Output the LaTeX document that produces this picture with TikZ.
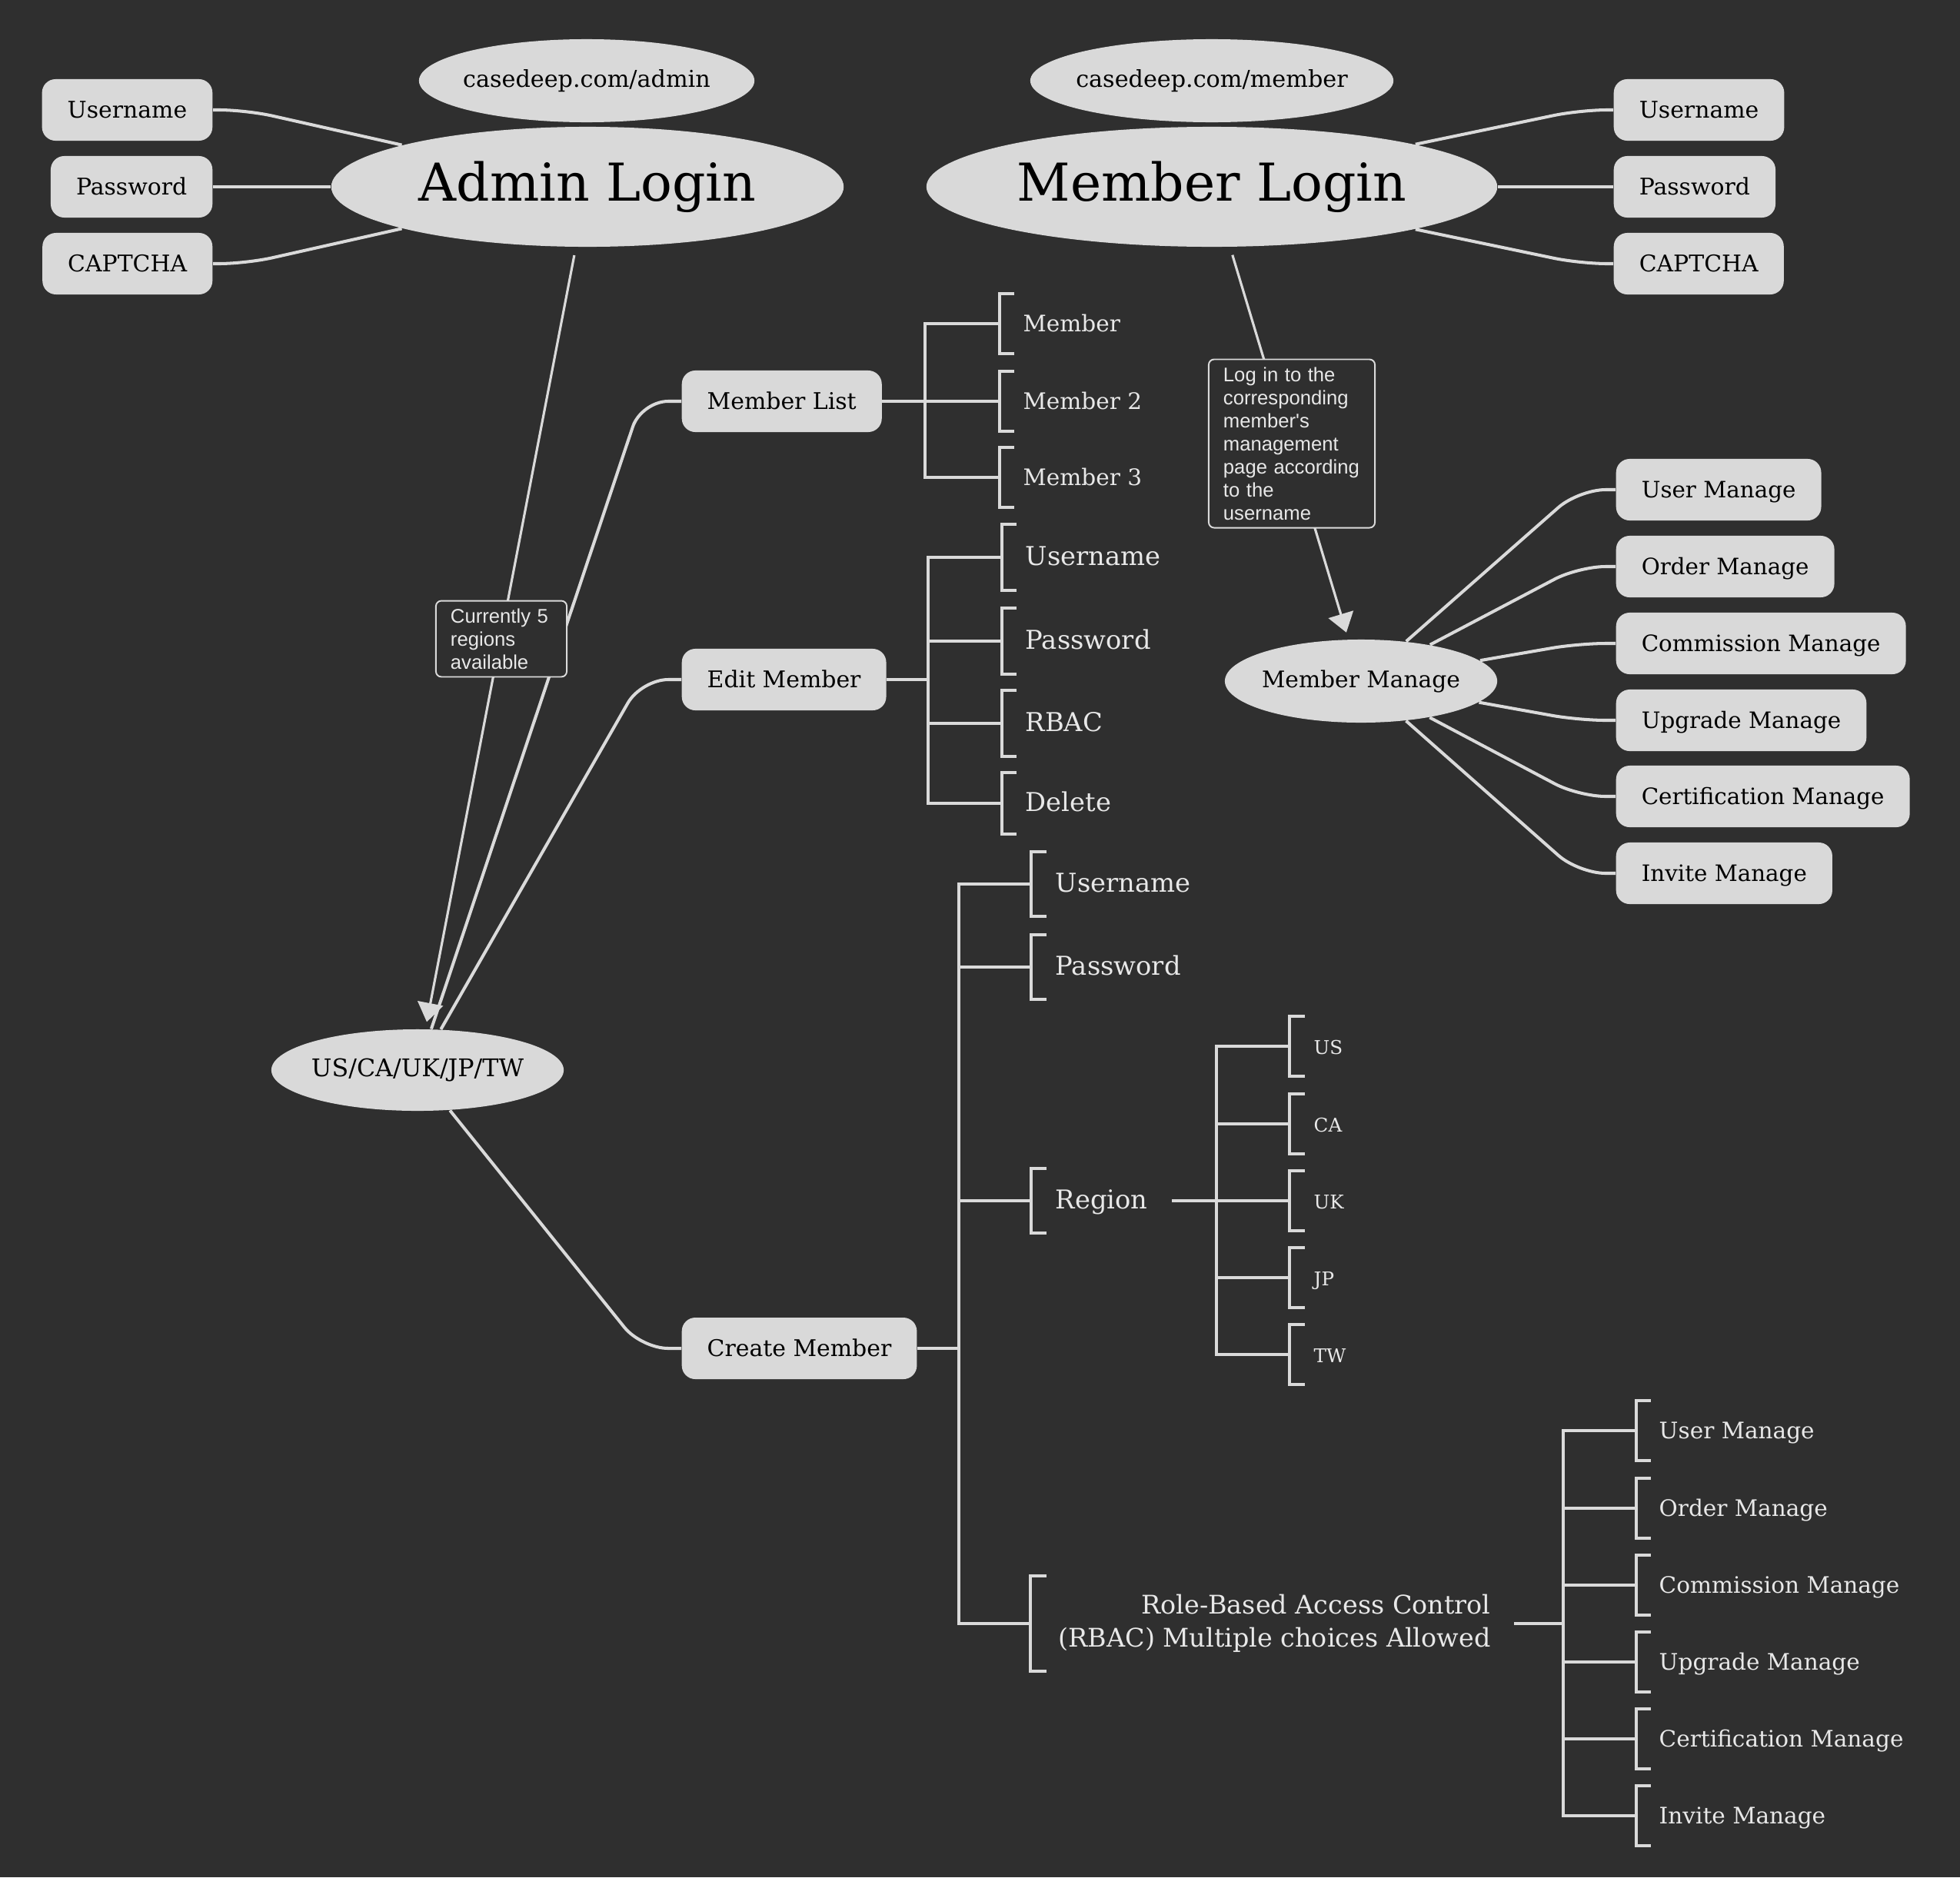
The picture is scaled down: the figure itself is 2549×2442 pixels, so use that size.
\documentclass[tikz,border=0pt]{standalone}
\usepackage{fontspec}
\setmainfont{DejaVu Serif}
\newfontfamily\notefont{Liberation Sans}
\usetikzlibrary{shapes.geometric,arrows.meta,calc}
\definecolor{bg}{HTML}{2F2F2F}
\definecolor{nodefill}{HTML}{D9D9D9}
\definecolor{lc}{HTML}{DADADA}
\definecolor{tc}{HTML}{E8E8E8}
\newcommand\mybracket[4]{\draw[brline] ($(#1.west)+(#4,-#2)$) -- ($(#1.west)+(#3,-#2)$) -- ($(#1.west)+(#3,#2)$) -- ($(#1.west)+(#4,#2)$);}
\newcommand\zbox[1]{\makebox[0pt]{#1}}
\begin{document}
\begin{tikzpicture}[x=0.01cm,y=-0.01cm,
  box/.style={rectangle, rounded corners=5pt, fill=nodefill, text=black, minimum height=0.8cm, inner xsep=0.33cm, inner ysep=0pt, text height=1.5ex, text depth=0.3ex, font=\fontsize{8.5}{10}\selectfont},
  oval/.style={ellipse, fill=nodefill, text=black, inner sep=0pt},
  conn/.style={draw=lc, line width=1.15pt, rounded corners=0.35cm},
  arr/.style={draw=lc, line width=0.9pt, -{Triangle[length=7pt,width=9.5pt]}, shorten <=3pt, shorten >=2.6pt},
  brline/.style={draw=lc, line width=1.15pt},
  leaf/.style={text=tc, inner sep=0pt, anchor=west, text height=1.5ex, text depth=0.3ex},
  note/.style={draw=lc, line width=0.55pt, rounded corners=2pt, fill=bg, text=tc, align=left, inner xsep=0.19cm, inner ysep=0.1cm, font=\notefont\fontsize{7.3}{8.54}\selectfont},
  fA/.style={font=\fontsize{8.4}{10}\selectfont},
  fB/.style={font=\fontsize{9.6}{12}\selectfont},
  fC/.style={font=\fontsize{7}{9}\selectfont},
]
\fill[bg] (0,0) rectangle (2549,2442);
\useasboundingbox (0,0) rectangle (2549,2442);

% top ellipses
\node[oval, minimum width=4.36cm, minimum height=1.08cm, font=\fontsize{8.6}{10}\selectfont] (cadmin) at (763,105) {\zbox{casedeep.com/admin}};
\node[oval, minimum width=4.72cm, minimum height=1.08cm, font=\fontsize{8.6}{10}\selectfont] (cmember) at (1576,105) {\zbox{casedeep.com/member}};
\node[oval, minimum width=6.66cm, minimum height=1.56cm, font=\fontsize{19.3}{22}\selectfont] (admin) at (764,243) {\zbox{Admin Login}};
\node[oval, minimum width=7.42cm, minimum height=1.56cm, font=\fontsize{19.3}{22}\selectfont] (member) at (1576,243) {\zbox{Member Login}};

% admin login fields
\node[box, anchor=east] (au) at (277,143) {Username};
\node[box, anchor=east] (ap) at (277,243) {Password};
\node[box, anchor=east] (ac) at (277,343) {CAPTCHA};
\draw[conn] (admin) -- ($(au.east)+(43,0)$) -- (au.east);
\draw[conn] (admin) -- (ap.east);
\draw[conn] (admin) -- ($(ac.east)+(43,0)$) -- (ac.east);

% member login fields
\node[box, anchor=west] (mu) at (2098,143) {Username};
\node[box, anchor=west] (mp) at (2098,243) {Password};
\node[box, anchor=west] (mc) at (2098,343) {CAPTCHA};
\draw[conn] (member) -- ($(mu.west)+(-43,0)$) -- (mu.west);
\draw[conn] (member) -- (mp.west);
\draw[conn] (member) -- ($(mc.west)+(-43,0)$) -- (mc.west);

% regions ellipse and admin branches
\node[oval, minimum width=3.8cm, minimum height=1.06cm, font=\fontsize{9}{11}\selectfont] (us) at (543,1392) {\zbox{US/CA/UK/JP/TW}};
\node[box, anchor=west] (ml) at (886,522) {Member List};
\node[box, anchor=west] (em) at (886,884) {Edit Member};
\node[box, anchor=west] (cm) at (886,1754) {Create Member};
\draw[conn] (us) -- ($(ml.west)+(-52,0)$) -- (ml.west);
\draw[conn] (us) -- ($(em.west)+(-52,0)$) -- (em.west);
\draw[conn] (us) -- ($(cm.west)+(-52,0)$) -- (cm.west);
\draw[arr] (admin) -- (us);

% member list leaves
\node[leaf, fA] (l1) at (1330,421) {Member};
\node[leaf, fA] (l2) at (1330,522) {Member 2};
\node[leaf, fA] (l3) at (1330,621) {Member 3};
\coordinate (mlt) at (1203,522);
\draw[brline] (ml.east) -- ($(l2.west)+(-30,0)$);
\draw[brline] ($(l1.west)+(-30,0)$) -| (mlt|-l3.west) -- ($(l3.west)+(-30,0)$);
\mybracket{l1}{39}{-30}{-11}
\mybracket{l2}{39}{-30}{-11}
\mybracket{l3}{39}{-30}{-11}

% edit member leaves
\node[leaf, fB] (e1) at (1333,725) {Username};
\node[leaf, fB] (e2) at (1333,834) {Password};
\node[leaf, fB] (e3) at (1333,941) {RBAC};
\node[leaf, fB] (e4) at (1333,1045) {Delete};
\coordinate (emt) at (1207,884);
\draw[brline] (em.east) -- (emt);
\draw[brline] ($(e1.west)+(-30,0)$) -| (emt|-e4.west) -- ($(e4.west)+(-30,0)$);
\draw[brline] (emt|-e2.west) -- ($(e2.west)+(-30,0)$);
\draw[brline] (emt|-e3.west) -- ($(e3.west)+(-30,0)$);
\mybracket{e1}{43}{-30}{-11}
\mybracket{e2}{43}{-30}{-11}
\mybracket{e3}{43}{-30}{-11}
\mybracket{e4}{40}{-30}{-11}

% create member leaves
\node[leaf, fB] (c1) at (1372,1150) {Username};
\node[leaf, fB] (c2) at (1372,1258) {Password};
\node[leaf, fB] (c3) at (1372,1562) {Region};
\node[leaf, align=right, font=\fontsize{9.5}{12.2}\selectfont, text height=, text depth=] (c4) at (1376,2112) {Role-Based Access Control\\(RBAC) Multiple choices Allowed};
\coordinate (cmt) at (1247,1754);
\draw[brline] (cm.east) -- (cmt);
\draw[brline] ($(c1.west)+(-31,0)$) -| (cmt|-c4.west) -- ($(c4.west)+(-36,0)$);
\draw[brline] (cmt|-c2.west) -- ($(c2.west)+(-31,0)$);
\draw[brline] (cmt|-c3.west) -- ($(c3.west)+(-31,0)$);
\mybracket{c1}{42}{-31}{-11}
\mybracket{c2}{42}{-31}{-11}
\mybracket{c3}{42}{-31}{-11}
\mybracket{c4}{62}{-36}{-15}

% regions
\node[leaf, fC] (r1) at (1708,1361) {US};
\node[leaf, fC] (r2) at (1708,1462) {CA};
\node[leaf, fC] (r3) at (1708,1562) {UK};
\node[leaf, fC] (r4) at (1708,1662) {JP};
\node[leaf, fC] (r5) at (1708,1762) {TW};
\coordinate (rt) at (1582,1562);
\draw[brline] ($(c3.east)+(31,0)$) -- ($(r3.west)+(-31,0)$);
\draw[brline] ($(r1.west)+(-31,0)$) -| (rt|-r5.west) -- ($(r5.west)+(-31,0)$);
\draw[brline] (rt|-r2.west) -- ($(r2.west)+(-31,0)$);
\draw[brline] (rt|-r4.west) -- ($(r4.west)+(-31,0)$);
\mybracket{r1}{39}{-31}{-11}
\mybracket{r2}{39}{-31}{-11}
\mybracket{r3}{39}{-31}{-11}
\mybracket{r4}{39}{-31}{-11}
\mybracket{r5}{39}{-31}{-11}

% rbac options
\node[leaf, fA] (s1) at (2157,1861) {User Manage};
\node[leaf, fA] (s2) at (2157,1962) {Order Manage};
\node[leaf, fA] (s3) at (2157,2062) {Commission Manage};
\node[leaf, fA] (s4) at (2157,2162) {Upgrade Manage};
\node[leaf, fA] (s5) at (2157,2262) {Certification Manage};
\node[leaf, fA] (s6) at (2157,2362) {Invite Manage};
\coordinate (st) at (2033,2112);
\draw[brline] ($(c4.east)+(30,0)$) -- (st);
\draw[brline] ($(s1.west)+(-29,0)$) -| (st|-s6.west) -- ($(s6.west)+(-29,0)$);
\draw[brline] (st|-s2.west) -- ($(s2.west)+(-29,0)$);
\draw[brline] (st|-s3.west) -- ($(s3.west)+(-29,0)$);
\draw[brline] (st|-s4.west) -- ($(s4.west)+(-29,0)$);
\draw[brline] (st|-s5.west) -- ($(s5.west)+(-29,0)$);
\mybracket{s1}{39}{-29}{-10}
\mybracket{s2}{39}{-29}{-10}
\mybracket{s3}{39}{-29}{-10}
\mybracket{s4}{39}{-29}{-10}
\mybracket{s5}{39}{-29}{-10}
\mybracket{s6}{39}{-29}{-10}

% member manage
\node[oval, minimum width=3.54cm, minimum height=1.08cm, font=\fontsize{8.45}{10}\selectfont] (mm) at (1770,886) {\zbox{Member Manage}};
\node[box, anchor=west, font=\fontsize{8.35}{10}\selectfont] (b1) at (2101,637) {User Manage};
\node[box, anchor=west, font=\fontsize{8.35}{10}\selectfont] (b2) at (2101,737) {Order Manage};
\node[box, anchor=west, font=\fontsize{8.35}{10}\selectfont] (b3) at (2101,837) {Commission Manage};
\node[box, anchor=west, font=\fontsize{8.35}{10}\selectfont] (b4) at (2101,937) {Upgrade Manage};
\node[box, anchor=west, font=\fontsize{8.35}{10}\selectfont] (b5) at (2101,1036) {Certification Manage};
\node[box, anchor=west, font=\fontsize{8.35}{10}\selectfont] (b6) at (2101,1136) {Invite Manage};
\foreach \b in {b1,b2,b3,b4,b5,b6}{\draw[conn] (mm) -- ($(\b.west)+(-48,0)$) -- (\b.west);}
\draw[arr] (member) -- (mm);

% notes
\node[note, text width=1.32cm] (n1) at (652,831) {Currently 5\\regions\\available};
\node[note, text width=1.78cm] (n2) at (1680,577) {Log in to the\\corresponding\\member's\\management\\page according\\to the\\username};
\end{tikzpicture}
\end{document}
